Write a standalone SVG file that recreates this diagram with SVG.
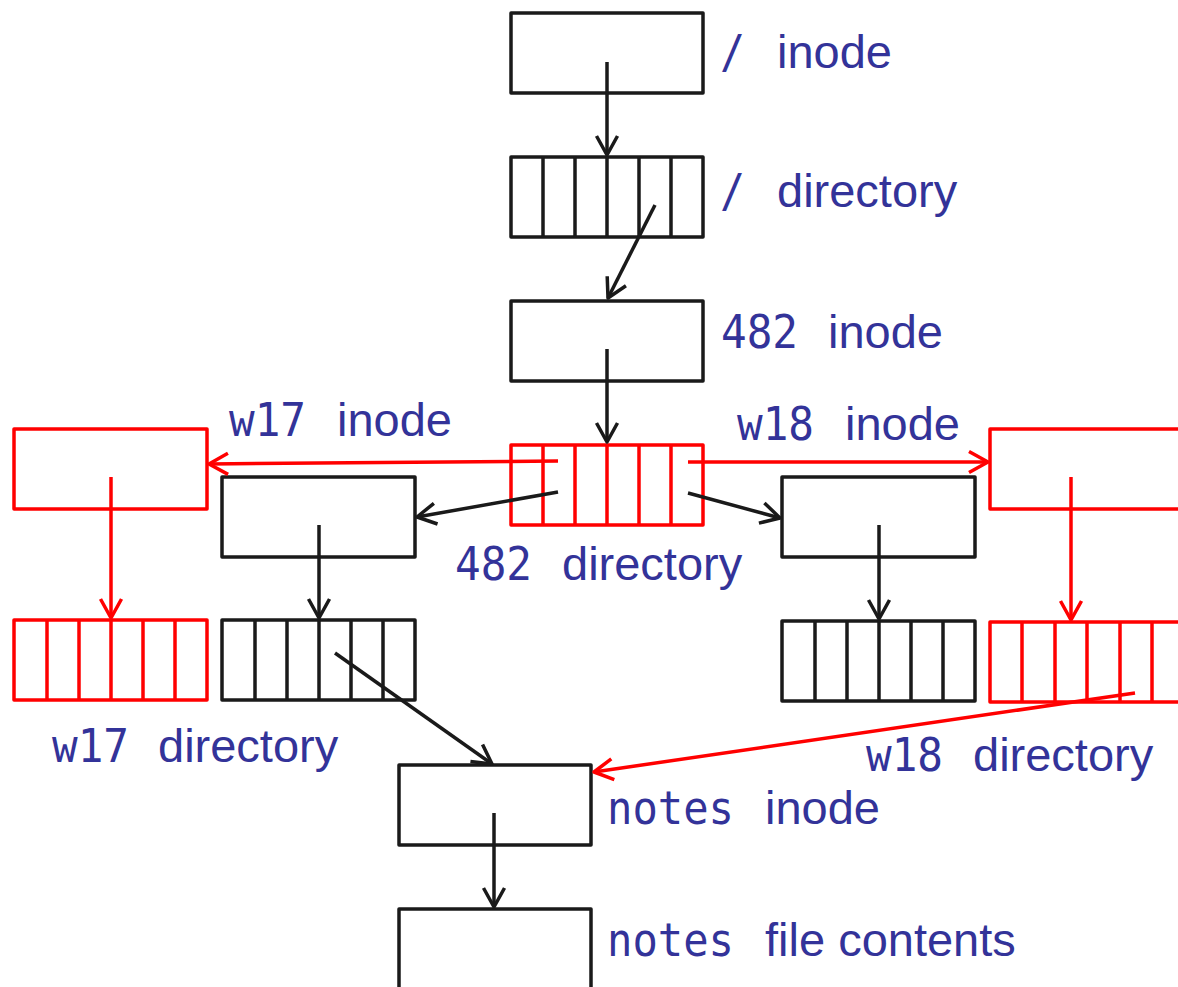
<svg xmlns="http://www.w3.org/2000/svg" width="1178" height="987" viewBox="0 0 1178 987">
  <style>
    .box { fill: none; stroke-width: 3.5; stroke-linejoin: round; }
    .blk { stroke: #1a1a1a; }
    .red { stroke: #ff0000; }
    .lbl { fill: #333399; font-family: "Liberation Sans", Arial, sans-serif; font-size: 47px; }
    .code { fill: #333399; font-family: "DejaVu Sans Mono", monospace; font-size: 46px; }
    .wire { fill: none; stroke-width: 3.5; }
  </style>
  <defs>
    <marker id="ah-blk" markerUnits="userSpaceOnUse" markerWidth="30" markerHeight="30" refX="0" refY="0" orient="auto" overflow="visible">
      <path d="M-19,-10.5 L0,0 L-19,10.5" fill="none" stroke="#1a1a1a" stroke-width="3.5" stroke-linejoin="round"/>
    </marker>
    <marker id="ah-red" markerUnits="userSpaceOnUse" markerWidth="30" markerHeight="30" refX="0" refY="0" orient="auto" overflow="visible">
      <path d="M-19,-10.5 L0,0 L-19,10.5" fill="none" stroke="#ff0000" stroke-width="3.5" stroke-linejoin="round"/>
    </marker>
  </defs>
  <rect width="1178" height="987" fill="#ffffff"/>

  <!-- root inode -->
  <g id="root-inode">
    <rect class="box blk" x="511" y="13" width="192" height="80"/>
    <text class="code" x="720" y="68" textLength="25" lengthAdjust="spacingAndGlyphs">/</text>
    <text class="lbl" x="777" y="68">inode</text>
  </g>

  <!-- root directory -->
  <g id="root-dir">
    <rect class="box blk" x="511" y="157" width="192" height="80"/>
    <path class="box blk" d="M543,157V237M575,157V237M607,157V237M639,157V237M671,157V237"/>
    <text class="code" x="720" y="207" textLength="25" lengthAdjust="spacingAndGlyphs">/</text>
    <text class="lbl" x="777" y="207">directory</text>
  </g>

  <!-- 482 inode -->
  <g id="inode-482">
    <rect class="box blk" x="511" y="301" width="192" height="80"/>
    <text class="code" x="721" y="348" textLength="77" lengthAdjust="spacingAndGlyphs">482</text>
    <text class="lbl" x="828" y="348">inode</text>
  </g>

  <!-- 482 directory -->
  <g id="dir-482">
    <rect class="box red" x="511" y="445" width="192" height="80"/>
    <path class="box red" d="M543,445V525M575,445V525M607,445V525M639,445V525M671,445V525"/>
    <text class="code" x="455" y="580" textLength="77" lengthAdjust="spacingAndGlyphs">482</text>
    <text class="lbl" x="562" y="580">directory</text>
  </g>

  <!-- w17 inode -->
  <g id="inode-w17">
    <rect class="box red" x="14" y="429" width="193" height="80"/>
    <text class="code" x="229" y="436" textLength="77" lengthAdjust="spacingAndGlyphs">w17</text>
    <text class="lbl" x="337" y="436">inode</text>
  </g>

  <!-- old w17 inode -->
  <g id="inode-left">
    <rect class="box blk" x="222" y="477" width="193" height="80"/>
  </g>

  <!-- old w18 inode -->
  <g id="inode-right">
    <rect class="box blk" x="782" y="477" width="193" height="80"/>
  </g>

  <!-- w18 inode -->
  <g id="inode-w18">
    <rect class="box red" x="990" y="429" width="193" height="80"/>
    <text class="code" x="737" y="440" textLength="77" lengthAdjust="spacingAndGlyphs">w18</text>
    <text class="lbl" x="845" y="440">inode</text>
  </g>

  <!-- w17 directory -->
  <g id="dir-w17">
    <rect class="box red" x="14" y="620" width="193" height="80"/>
    <path class="box red" d="M47,620V700M79,620V700M111,620V700M143,620V700M175,620V700"/>
    <text class="code" x="52" y="762" textLength="77" lengthAdjust="spacingAndGlyphs">w17</text>
    <text class="lbl" x="158" y="762">directory</text>
  </g>

  <!-- old w17 directory -->
  <g id="dir-left">
    <rect class="box blk" x="222" y="620" width="193" height="80"/>
    <path class="box blk" d="M255,620V700M287,620V700M319,620V700M351,620V700M383,620V700"/>
  </g>

  <!-- old w18 directory -->
  <g id="dir-right">
    <rect class="box blk" x="782" y="621" width="193" height="80"/>
    <path class="box blk" d="M815,621V701M847,621V701M879,621V701M911,621V701M943,621V701"/>
  </g>

  <!-- w18 directory -->
  <g id="dir-w18">
    <rect class="box red" x="990" y="622" width="193" height="80"/>
    <path class="box red" d="M1022,622V702M1055,622V702M1087,622V702M1120,622V702M1152,622V702"/>
    <text class="code" x="866" y="771" textLength="77" lengthAdjust="spacingAndGlyphs">w18</text>
    <text class="lbl" x="973" y="771">directory</text>
  </g>

  <!-- notes inode -->
  <g id="inode-notes">
    <rect class="box blk" x="399" y="765" width="192" height="80"/>
    <text class="code" x="607" y="824" textLength="127" lengthAdjust="spacingAndGlyphs">notes</text>
    <text class="lbl" x="765" y="824">inode</text>
  </g>

  <!-- notes file contents -->
  <g id="file-notes">
    <rect class="box blk" x="399" y="909" width="192" height="100"/>
    <text class="code" x="607" y="956" textLength="127" lengthAdjust="spacingAndGlyphs">notes</text>
    <text class="lbl" x="765" y="956">file contents</text>
  </g>

  <!-- pointers between blocks -->
  <g id="connectors">
    <line class="wire blk" x1="607" y1="62" x2="607" y2="155" marker-end="url(#ah-blk)"/>
    <line class="wire blk" x1="655" y1="205" x2="608" y2="298" marker-end="url(#ah-blk)"/>
    <line class="wire blk" x1="607" y1="349" x2="607" y2="442" marker-end="url(#ah-blk)"/>
    <line class="wire red" x1="558" y1="461" x2="209" y2="464" marker-end="url(#ah-red)"/>
    <line class="wire blk" x1="558" y1="492" x2="417" y2="517" marker-end="url(#ah-blk)"/>
    <line class="wire red" x1="688" y1="462" x2="988" y2="462" marker-end="url(#ah-red)"/>
    <line class="wire blk" x1="688" y1="493" x2="780" y2="518" marker-end="url(#ah-blk)"/>
    <line class="wire red" x1="111" y1="477" x2="111" y2="618" marker-end="url(#ah-red)"/>
    <line class="wire blk" x1="319" y1="525" x2="319" y2="618" marker-end="url(#ah-blk)"/>
    <line class="wire blk" x1="879" y1="525" x2="879" y2="619" marker-end="url(#ah-blk)"/>
    <line class="wire red" x1="1071" y1="477" x2="1071" y2="620" marker-end="url(#ah-red)"/>
    <line class="wire blk" x1="335" y1="653" x2="492" y2="764" marker-end="url(#ah-blk)"/>
    <line class="wire red" x1="1135" y1="693" x2="594" y2="772" marker-end="url(#ah-red)"/>
    <line class="wire blk" x1="494" y1="813" x2="494" y2="907" marker-end="url(#ah-blk)"/>
  </g>
</svg>
